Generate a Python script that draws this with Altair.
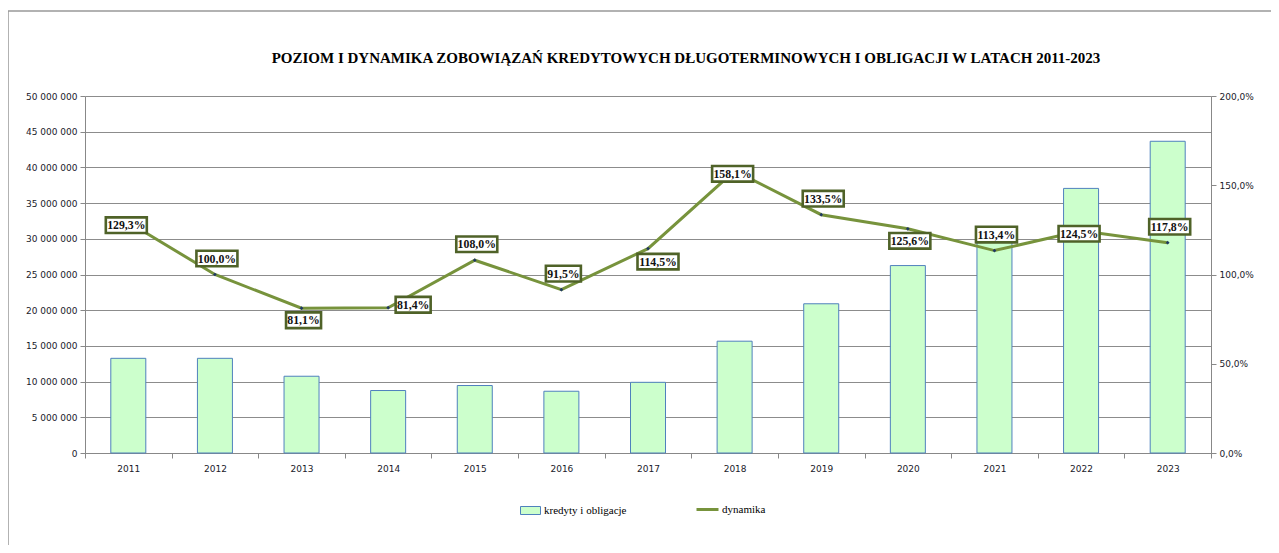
import altair as alt
import pandas as pd

years = ["2011", "2012", "2013", "2014", "2015", "2016", "2017",
         "2018", "2019", "2020", "2021", "2022", "2023"]
kredyty = [13_260_000, 13_260_000, 10_750_000, 8_750_000, 9_450_000, 8_650_000,
           9_900_000, 15_660_000, 20_900_000, 26_250_000, 29_770_000,
           37_060_000, 43_660_000]
dynamika = [129.3, 100.0, 81.1, 81.4, 108.0, 91.5, 114.5,
            158.1, 133.5, 125.6, 113.4, 124.5, 117.8]
# label placement relative to the point (c=center, a=above, b=below, r=right, br=below-right)
label_pos = ["c", "a", "b", "r", "a", "a", "br", "c", "a", "b", "a", "c", "a"]

TITLE = "POZIOM I DYNAMIKA ZOBOWIĄZAŃ KREDYTOWYCH DŁUGOTERMINOWYCH  I OBLIGACJI W LATACH 2011-2023"

df = pd.DataFrame({
    "rok": years,
    "kredyty": kredyty,
    "dynamika": dynamika,
    "pos": label_pos,
})

OFFSETS = {"c": (-2, 3), "a": (2, -16), "b": (2, 12), "r": (25, -3), "br": (10, 13)}
BIG = "M-1,-0.38L1,-0.38L1,0.38L-1,0.38Z"
SMALL = "M-1,-0.45L1,-0.45L1,0.45L-1,0.45Z"
GRID = "#8C8C8C"
AXC = "#888888"
LAB = "#1a1a2a"

base = alt.Chart(df)

x_enc = alt.X(
    "rok:N",
    scale=alt.Scale(paddingInner=0, paddingOuter=0),
    axis=alt.Axis(title=None, labelAngle=0, tickBand="extent", domainColor=AXC,
                  tickColor=AXC, tickSize=5, labelPadding=6, labelFont="DejaVu Sans",
                  labelFontSize=9, labelColor=LAB, grid=False),
)

bars = base.transform_calculate(s1="'kredyty i obligacje'").mark_bar(
    size=35, stroke="#4F81BD", strokeWidth=1
).encode(
    x=x_enc,
    y=alt.Y("kredyty:Q", scale=alt.Scale(domain=[0, 50_000_000]),
            axis=alt.Axis(title=None, orient="left",
                          values=list(range(0, 50_000_001, 5_000_000)),
                          labelExpr="replace(replace(format(datum.value, ','), ',', ' '), ',', ' ')",
                          grid=True, gridColor=GRID, gridWidth=1.2,
                          domainColor=AXC, tickColor=AXC, tickSize=5, labelPadding=3,
                          labelFont="DejaVu Sans", labelFontSize=9, labelColor=LAB)),
    fill=alt.Fill("s1:N", scale=alt.Scale(range=["#CCFFCC"]),
                  legend=alt.Legend(orient="none", legendX=435, legendY=404, title=None,
                                    symbolType="M-1,-0.4L1,-0.4L1,0.4L-1,0.4Z",
                                    symbolSize=400, symbolStrokeColor="#4F81BD",
                                    symbolStrokeWidth=1, labelFont="Liberation Serif",
                                    labelFontSize=11, labelColor="black", padding=0,
                                    labelOffset=3)),
)

right_axis = alt.Axis(title=None, orient="right", values=[0, 50, 100, 150, 200],
                      labelExpr="replace(format(datum.value, '.1f'), '.', ',') + '%'",
                      grid=False, domainColor=AXC, tickColor=AXC, tickSize=5,
                      labelPadding=3, labelFont="DejaVu Sans", labelFontSize=9,
                      labelColor=LAB)
y_right = alt.Y("dynamika:Q", scale=alt.Scale(domain=[0, 200]), axis=right_axis)

line = base.transform_calculate(s2="'dynamika'").mark_line(strokeWidth=3).encode(
    x=x_enc,
    y=y_right,
    stroke=alt.Stroke("s2:N", scale=alt.Scale(range=["#77933C"]),
                      legend=alt.Legend(orient="none", legendX=610, legendY=401, title=None,
                                        symbolType="stroke", symbolSize=484,
                                        symbolStrokeWidth=3, labelFont="Liberation Serif",
                                        labelFontSize=11, labelColor="black", padding=0,
                                        labelOffset=2)),
)

points = base.mark_point(shape="diamond", filled=True, size=14, color="#1F3864",
                         opacity=1).encode(x=x_enc, y=y_right)

boxes = []
texts = []
for p, (dx, dy) in OFFSETS.items():
    sub = base.transform_filter(alt.datum.pos == p)
    boxes.append(
        sub.mark_point(fill="white", stroke="#4F6228", strokeWidth=2.6, opacity=1,
                       filled=False, fillOpacity=1, xOffset=dx, yOffset=dy).encode(
            x=x_enc, y=y_right,
            shape=alt.condition("datum.dynamika < 100", alt.value(SMALL), alt.value(BIG)),
            size=alt.condition("datum.dynamika < 100", alt.value(1225), alt.value(1681)),
        )
    )
    texts.append(
        sub.transform_calculate(
            lab="replace(format(datum.dynamika, '.1f'), '.', ',') + '%'"
        ).mark_text(font="Liberation Serif", fontWeight="bold", fontSize=11.8,
                    color="#111111", dx=dx, dy=dy, align="center",
                    baseline="middle").encode(x=x_enc, y=y_right, text="lab:N")
    )

one = alt.Chart(pd.DataFrame({"a": [0]}))
frame_left = one.mark_rule(color="#999999", strokeWidth=1.5).encode(
    x=alt.value(-77), y=alt.value(-85), y2=alt.value(460))
frame_top = one.mark_rule(color="#999999", strokeWidth=1.5).encode(
    x=alt.value(-77), x2=alt.value(1200), y=alt.value(-85))

right_layer = alt.layer(line, points, *boxes, *texts)

chart = alt.layer(frame_left, frame_top, bars, right_layer).resolve_scale(
    y="independent", fill="independent", stroke="independent"
).properties(
    width=1126, height=357,
    title=alt.Title(TITLE, font="Liberation Serif", fontSize=15, fontWeight="bold",
                    color="black", anchor="middle", dx=38, dy=56, offset=0,
                    frame="group"),
    autosize=alt.AutoSizeParams(type="none"),
    padding={"left": 77, "top": 88, "right": 60, "bottom": 92},
).configure_view(stroke=None)

chart.save("out.html", embed_options={"renderer": "svg", "actions": False})
